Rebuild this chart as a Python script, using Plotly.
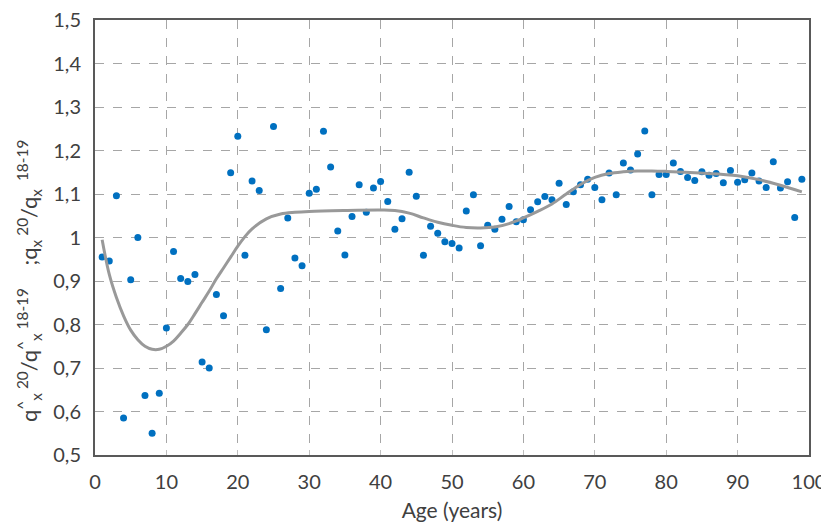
import plotly.graph_objects as go

ages = list(range(1, 100))
ratio = [
    0.955, 0.946, 1.096, 0.585, 0.903, 1.000, 0.637, 0.550, 0.642, 0.792,
    0.968, 0.906, 0.899, 0.915, 0.714, 0.700, 0.869, 0.820, 1.149, 1.233,
    0.959, 1.130, 1.108, 0.788, 1.255, 0.883, 1.045, 0.953, 0.935, 1.102,
    1.111, 1.244, 1.162, 1.015, 0.960, 1.048, 1.121, 1.058, 1.114, 1.129,
    1.083, 1.019, 1.043, 1.150, 1.095, 0.959, 1.026, 1.010, 0.990, 0.986,
    0.976, 1.061, 1.098, 0.981, 1.028, 1.019, 1.042, 1.071, 1.036, 1.041,
    1.064, 1.082, 1.094, 1.087, 1.125, 1.076, 1.105, 1.121, 1.134, 1.115,
    1.087, 1.148, 1.098, 1.171, 1.155, 1.192, 1.245, 1.098, 1.145, 1.145,
    1.171, 1.152, 1.138, 1.131, 1.151, 1.143, 1.147, 1.126, 1.154, 1.127,
    1.133, 1.148, 1.130, 1.115, 1.174, 1.114, 1.128, 1.046, 1.134,
]

fit_ages = [1, 2, 3, 4, 5, 6, 7, 8, 9, 10, 11, 12, 13, 14, 15, 16, 17, 18, 19, 20,
            21, 22, 24, 26, 28, 30, 35, 40, 42, 44, 46, 48, 50, 52, 54, 56, 58, 60,
            62, 64, 66, 68, 70, 72, 74, 76, 78, 80, 84, 88, 90, 93, 96, 99]
fit_vals = [0.995, 0.915, 0.862, 0.820, 0.787, 0.765, 0.750, 0.743, 0.743, 0.750,
            0.762, 0.780, 0.800, 0.825, 0.851, 0.877, 0.905, 0.930, 0.955, 0.980,
            1.002, 1.020, 1.043, 1.054, 1.058, 1.060, 1.062, 1.063, 1.062, 1.056,
            1.045, 1.035, 1.028, 1.023, 1.022, 1.024, 1.032, 1.045, 1.060, 1.077,
            1.100, 1.122, 1.138, 1.147, 1.151, 1.153, 1.153, 1.152, 1.149, 1.145,
            1.142, 1.133, 1.120, 1.105]

x_ticks = list(range(0, 101, 10))
y_ticks = [0.5, 0.6, 0.7, 0.8, 0.9, 1.0, 1.1, 1.2, 1.3, 1.4, 1.5]
y_tick_text = ["0,5", "0,6", "0,7", "0,8", "0,9", "1", "1,1", "1,2", "1,3", "1,4", "1,5"]

FONT = "Lato"
TXT = "#404040"
NB = "\u00a0"

fig = go.Figure()
fig.add_trace(go.Scatter(
    x=ages, y=ratio, mode="markers",
    marker=dict(color="#0070C0", size=7),
    showlegend=False, cliponaxis=False,
))
fig.add_trace(go.Scatter(
    x=fit_ages, y=fit_vals, mode="lines", line_shape="spline",
    line=dict(color="#999999", width=3),
    showlegend=False,
))

ytitle = (f"q<sup>^</sup><sub>x</sub><sup>{NB}20</sup>/q<sup>^</sup><sub>x</sub><sup>{NB}18-19</sup>"
          f"{NB*4};q<sub>x</sub><sup>{NB}20</sup>/q<sub>x</sub><sup>{NB}{NB}18-19</sup>")

# page body has an 8px margin, so the figure is sized/offset to compensate
fig.update_layout(
    width=821, height=517,
    margin=dict(l=87, r=20, t=12, b=70),
    plot_bgcolor="white", paper_bgcolor="white",
    font=dict(family=FONT, size=20, color=TXT),
    xaxis=dict(
        range=[0, 100], tickvals=x_ticks, automargin=False,
        showgrid=True, gridcolor="#A6A6A6", griddash="dash", gridwidth=1,
        showline=True, linecolor="#595959", linewidth=2, mirror=True,
        ticks="inside", ticklen=5, tickcolor="#BFBFBF",
        ticklabelstandoff=8, ticklabeloverflow="allow",
        zeroline=False,
        title=dict(text="Age (years)", font=dict(size=21, color=TXT), standoff=11),
    ),
    yaxis=dict(
        range=[0.5, 1.5], tickvals=y_ticks, ticktext=y_tick_text, automargin=False,
        showgrid=True, gridcolor="#A6A6A6", griddash="dash", gridwidth=1,
        showline=True, linecolor="#595959", linewidth=2, mirror=True,
        ticks="", zeroline=False, ticklabelstandoff=8, ticklabeloverflow="allow",
    ),
    annotations=[dict(
        text=ytitle, textangle=-90, showarrow=False,
        xref="paper", yref="paper", x=0, y=0.40,
        xanchor="center", yanchor="middle", xshift=-66,
        font=dict(size=22, color=TXT),
    )],
)

fig.write_html("out.html")
